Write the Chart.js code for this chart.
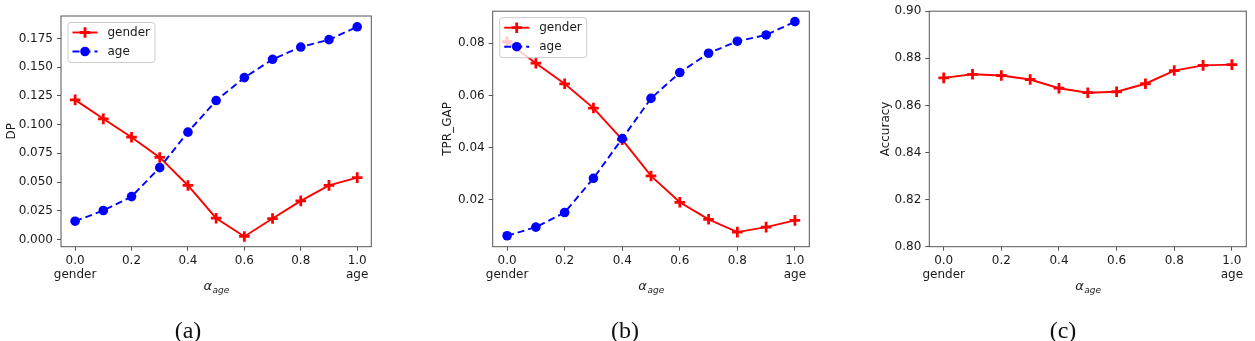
<!DOCTYPE html>
<html>
<head>
<meta charset="utf-8">
<script src="https://cdn.jsdelivr.net/npm/chart.js@4.4.0/dist/chart.umd.min.js"></script>
<style>
  body { margin: 0; background: #fff; width: 1255px; height: 341px; position: relative; overflow: hidden; }
  canvas { position: absolute; top: 0; }
  .cap { position: absolute; top: 318px; width: 100px; text-align: center; font-family: 'Liberation Serif', serif; font-size: 24px; line-height: 24px; color: #111; }
</style>
</head>
<body>
<canvas id="chartA" width="380" height="341" style="left:0px"></canvas>
<canvas id="chartB" width="400" height="341" style="left:420px"></canvas>
<canvas id="chartC" width="405" height="341" style="left:850px"></canvas>
<div class="cap" style="left:138px">(a)</div>
<div class="cap" style="left:575px">(b)</div>
<div class="cap" style="left:1013px">(c)</div>
<script>
// alpha_age values (x axis)
const alphas = [0.0, 0.1, 0.2, 0.3, 0.4, 0.5, 0.6, 0.7, 0.8, 0.9, 1.0];
const xTicks = [0.0, 0.2, 0.4, 0.6, 0.8, 1.0];

// (a) DP
const dpGender = [0.1215, 0.105, 0.089, 0.0714, 0.047, 0.0185, 0.0026, 0.0182, 0.0336, 0.0471, 0.0538];
const dpAge = [0.0159, 0.0252, 0.0373, 0.0625, 0.0934, 0.1209, 0.1409, 0.1568, 0.1675, 0.1739, 0.1851];
const dpTicks = [0.000, 0.025, 0.050, 0.075, 0.100, 0.125, 0.150, 0.175];

// (b) TPR_GAP
const tprGender = [0.0806, 0.0724, 0.0645, 0.0552, 0.0431, 0.0292, 0.0191, 0.0126, 0.0077, 0.0096, 0.0122];
const tprAge = [0.0063, 0.0096, 0.0152, 0.0283, 0.0435, 0.0589, 0.0688, 0.0762, 0.0808, 0.0832, 0.0883];
const tprTicks = [0.02, 0.04, 0.06, 0.08];

// (c) Accuracy
const accGender = [0.8717, 0.8732, 0.8727, 0.8710, 0.8673, 0.8654, 0.8658, 0.8692, 0.8748, 0.8770, 0.8773];
const accTicks = [0.80, 0.82, 0.84, 0.86, 0.88, 0.90];

const RED = '#ff0000';
const BLUE = '#0000ff';
const AXIS = '#555555';
const TEXT = '#1a1a1a';
const FONT = 'DejaVu Sans';

function pts(ys) {
  return alphas.map((a, i) => ({ x: a, y: ys[i] }));
}

function genderSet(ys) {
  return {
    label: 'gender', data: pts(ys), order: 1,
    borderColor: RED, borderWidth: 1.9, tension: 0,
    pointStyle: 'cross', pointRadius: 5.3, pointBorderWidth: 2.8,
    pointBorderColor: RED, pointBackgroundColor: RED
  };
}

function ageSet(ys) {
  return {
    label: 'age', data: pts(ys), order: 0,
    borderColor: BLUE, borderWidth: 1.9, borderDash: [7, 4], tension: 0,
    pointStyle: 'circle', pointRadius: 4.8, pointBorderWidth: 0,
    pointBorderColor: BLUE, pointBackgroundColor: BLUE
  };
}

// frame around the plot area + alpha_age axis title with subscript
const framePlugin = {
  id: 'frame',
  afterDraw(chart) {
    const { ctx, chartArea: a } = chart;
    ctx.save();
    ctx.strokeStyle = AXIS;
    ctx.lineWidth = 1;
    ctx.strokeRect(a.left, a.top, a.right - a.left, a.bottom - a.top);

    // x title: italic alpha with subscript "age"
    ctx.fillStyle = TEXT;
    ctx.textBaseline = 'alphabetic';
    const big = 'italic 13px ' + FONT;
    const small = 'italic 9px ' + FONT;
    ctx.font = big;
    const w1 = ctx.measureText('α').width;
    ctx.font = small;
    const w2 = ctx.measureText('age').width;
    const cx = (a.left + a.right) / 2;
    const x0 = cx - (w1 + w2) / 2;
    const base = 290;
    ctx.font = big;
    ctx.fillText('α', x0, base);
    ctx.font = small;
    ctx.fillText('age', x0 + w1 + 0.5, base + 3);
    ctx.restore();
  }
};

// matplotlib-style legend inside the upper-left corner
const legendPlugin = {
  id: 'innerLegend',
  afterDraw(chart) {
    const sets = chart.data.datasets;
    if (sets.length < 2) return;
    const { ctx, chartArea: a } = chart;
    const bx = a.left + 6.5, by = a.top + 6, bw = 87, bh = 40;
    ctx.save();
    ctx.fillStyle = 'rgba(255,255,255,0.8)';
    ctx.strokeStyle = '#cccccc';
    ctx.lineWidth = 1;
    ctx.beginPath();
    ctx.roundRect(bx + 0.5, by + 0.5, bw, bh, 3);
    ctx.fill();
    ctx.stroke();
    sets.forEach((ds, i) => {
      const y = by + 10.5 + i * 19;
      const x1 = bx + 5, x2 = bx + 30;
      const cx = (x1 + x2) / 2, r = ds.pointRadius;
      ctx.strokeStyle = ds.borderColor;
      ctx.lineWidth = ds.borderWidth;
      ctx.setLineDash(ds.borderDash || []);
      ctx.beginPath();
      ctx.moveTo(x1, y);
      ctx.lineTo(x2, y);
      ctx.stroke();
      ctx.setLineDash([]);
      ctx.fillStyle = ds.pointBackgroundColor;
      ctx.strokeStyle = ds.pointBorderColor;
      ctx.lineWidth = ds.pointBorderWidth;
      ctx.beginPath();
      if (ds.pointStyle === 'circle') {
        ctx.arc(cx, y, r, 0, Math.PI * 2);
        ctx.fill();
      } else {
        ctx.moveTo(cx - r, y); ctx.lineTo(cx + r, y);
        ctx.moveTo(cx, y - r); ctx.lineTo(cx, y + r);
        ctx.stroke();
      }
      ctx.fillStyle = TEXT;
      ctx.font = '12px ' + FONT;
      ctx.textBaseline = 'middle';
      ctx.fillText(ds.label, bx + 40, y + 0.5);
    });
    ctx.restore();
  }
};

function makeChart(id, datasets, yTicks, yMin, yMax, yDigits, yTitle, layout) {
  return new Chart(document.getElementById(id), {
    type: 'line',
    data: { datasets: datasets },
    options: {
      responsive: false,
      animation: false,
      devicePixelRatio: 1,
      layout: { padding: { left: 0, right: layout.right, top: layout.top, bottom: 0 } },
      plugins: { legend: { display: false }, tooltip: { enabled: false } },
      scales: {
        x: {
          type: 'linear', min: -0.05, max: 1.05,
          afterBuildTicks: s => { s.ticks = xTicks.map(v => ({ value: v })); },
          afterFit: s => { s.height = 341 - layout.bottom; },
          border: { display: false },
          grid: { drawOnChartArea: false, drawTicks: true, tickLength: 4, color: AXIS },
          ticks: {
            color: TEXT, padding: 3, maxRotation: 0, autoSkip: false,
            font: { family: FONT, size: 12, lineHeight: 1.2 },
            callback: v => v === 0 ? ['0.0', 'gender'] : (v === 1 ? ['1.0', 'age'] : v.toFixed(1))
          }
        },
        y: {
          min: yMin, max: yMax,
          afterBuildTicks: s => { s.ticks = yTicks.map(v => ({ value: v })); },
          afterFit: s => { s.width = layout.yW; },
          border: { display: false },
          grid: { drawOnChartArea: false, drawTicks: true, tickLength: 4, color: AXIS },
          ticks: {
            color: TEXT, padding: 4,
            font: { family: FONT, size: 12 },
            callback: v => v.toFixed(yDigits)
          },
          title: {
            display: true, text: yTitle, color: TEXT,
            font: { family: FONT, size: 12, lineHeight: 1.2 },
            padding: { top: layout.titlePad, bottom: 0 }
          }
        }
      }
    },
    plugins: [framePlugin, legendPlugin]
  });
}

makeChart('chartA', [genderSet(dpGender), ageSet(dpAge)], dpTicks, -0.0063, 0.1945, 3, 'DP',
  { yW: 61, right: 380 - 371.3, top: 16, bottom: 246.7, titlePad: 4.5 });

makeChart('chartB', [genderSet(tprGender), ageSet(tprAge)], tprTicks, 0.0021, 0.0923, 2, 'TPR_GAP',
  { yW: 72.7, right: 400 - 389.3, top: 10, bottom: 246.7, titlePad: 20.8 });

makeChart('chartC', [genderSet(accGender)], accTicks, 0.80, 0.90, 2, 'Accuracy',
  { yW: 79.3, right: 405 - 396.3, top: 10, bottom: 246.7, titlePad: 28.8 });
</script>
</body>
</html>
